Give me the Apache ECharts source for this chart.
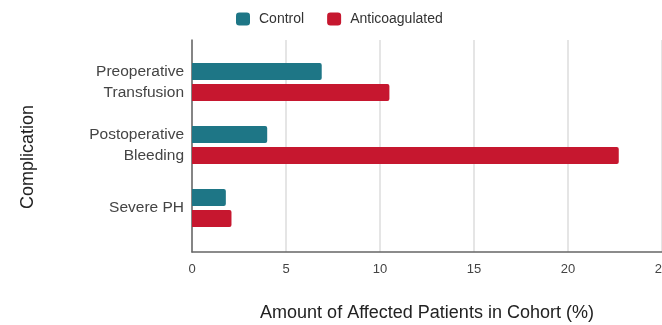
<!DOCTYPE html>
<html>
<head>
<meta charset="utf-8">
<script src="https://cdn.jsdelivr.net/npm/echarts@6/dist/echarts.min.js"></script>
<style>
  html, body { margin: 0; padding: 0; background: #fff; }
  #chart { width: 662px; height: 325px; }
</style>
</head>
<body>
<div id="chart"></div>
<script>
// Complication rates per cohort (%)
const categories = ['Preoperative\nTransfusion', 'Postoperative\nBleeding', 'Severe PH'];
const controlValues = [6.9, 4.0, 1.8];
const anticoagulatedValues = [10.5, 22.7, 2.1];
const xTicks = [0, 5, 10, 15, 20, 25];

const FONT = 'Liberation Sans, Arial, sans-serif';
const TEAL = '#1e7686';
const RED = '#c6172f';

const chart = echarts.init(document.getElementById('chart'));

const xMin = xTicks[0];
const xMax = xTicks[xTicks.length - 1];
const xStep = xTicks[1] - xTicks[0];

chart.setOption({
  animation: false,
  textStyle: { fontFamily: FONT },
  legend: {
    top: 7,
    left: 231,
    itemWidth: 14,
    itemHeight: 13,
    itemGap: 23,
    icon: 'roundRect',
    textStyle: { fontSize: 14, color: '#333', fontFamily: FONT, padding: [0, 0, 0, 4] },
    data: ['Control', 'Anticoagulated']
  },
  grid: [
    // frame: gridlines, axis lines and tick labels
    { left: 192, right: 0, top: 40, height: 212, outerBoundsMode: 'none', containLabel: false },
    // bars and category labels
    { left: 192, right: 0, top: 50.5, height: 189, outerBoundsMode: 'none', containLabel: false }
  ],
  xAxis: [
    {
      gridIndex: 0,
      type: 'value',
      min: xMin, max: xMax, interval: xStep,
      name: 'Amount of Affected Patients in Cohort (%)',
      nameLocation: 'middle',
      nameGap: 52,
      nameTextStyle: { fontSize: 18, color: '#222', fontFamily: FONT },
      axisLine: { show: true, lineStyle: { color: '#666', width: 1.5 } },
      axisTick: { show: false },
      axisLabel: { fontSize: 13, color: '#444', margin: 11, fontFamily: FONT },
      splitLine: { show: true, lineStyle: { color: '#dcdcdc', width: 1.5 } }
    },
    {
      gridIndex: 1,
      type: 'value',
      min: xMin, max: xMax, interval: xStep,
      show: false,
      splitLine: { show: false }
    }
  ],
  yAxis: [
    {
      gridIndex: 0,
      type: 'category',
      data: [''],
      name: 'Complication',
      nameLocation: 'middle',
      nameGap: 155,
      nameRotate: 90,
      nameTextStyle: { fontSize: 18, color: '#222', fontFamily: FONT, padding: [0, 22, 0, 0] },
      axisLine: { show: true, lineStyle: { color: '#666', width: 1.5 } },
      axisTick: { show: false },
      axisLabel: { show: false },
      splitLine: { show: false }
    },
    {
      gridIndex: 1,
      type: 'category',
      inverse: true,
      data: categories,
      axisLine: { show: false },
      axisTick: { show: false },
      axisLabel: { fontSize: 15.5, color: '#444', margin: 8, lineHeight: 21, align: 'right', fontFamily: FONT }
    }
  ],
  series: [
    {
      name: 'Control',
      type: 'bar',
      xAxisIndex: 1,
      yAxisIndex: 1,
      data: controlValues,
      barWidth: 17,
      barGap: '24%',
      itemStyle: { color: TEAL, borderRadius: [0, 2, 2, 0] }
    },
    {
      name: 'Anticoagulated',
      type: 'bar',
      xAxisIndex: 1,
      yAxisIndex: 1,
      data: anticoagulatedValues,
      barWidth: 17,
      barGap: '24%',
      itemStyle: { color: RED, borderRadius: [0, 2, 2, 0] }
    }
  ]
});
</script>
</body>
</html>
